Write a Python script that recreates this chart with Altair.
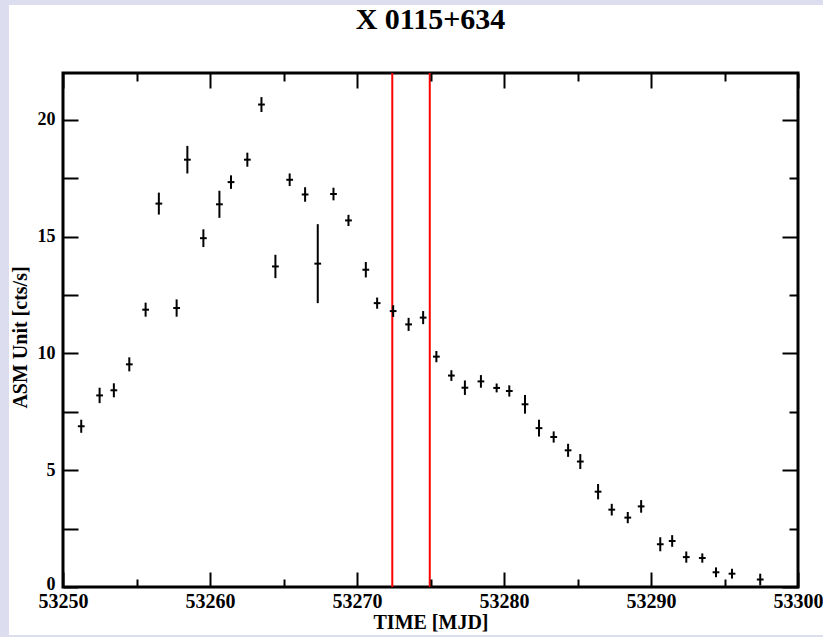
import altair as alt
import pandas as pd

TITLE = "X 0115+634"
X_TITLE = "TIME [MJD]"
Y_TITLE = "ASM Unit [cts/s]"

time_mjd = [53251.24, 53252.49, 53253.46, 53254.51, 53255.62, 53256.52, 53257.73, 53258.46,
            53259.55, 53260.64, 53261.43, 53262.54, 53263.50, 53264.45, 53265.42, 53266.47,
            53267.33, 53268.40, 53269.42, 53270.60, 53271.37, 53272.46, 53273.51, 53274.50,
            53275.40, 53276.42, 53277.34, 53278.43, 53279.50, 53280.36, 53281.43, 53282.38,
            53283.38, 53284.36, 53285.19, 53286.40, 53287.33, 53288.42, 53289.33, 53290.63,
            53291.44, 53292.40, 53293.49, 53294.42, 53295.51, 53297.43]
rate = [6.88, 8.20, 8.42, 9.53, 11.87, 16.41, 11.94, 18.29,
        14.93, 16.38, 17.33, 18.29, 20.65, 13.72, 17.43, 16.80,
        13.84, 16.82, 15.69, 13.58, 12.15, 11.81, 11.24, 11.53,
        9.86, 9.05, 8.53, 8.80, 8.52, 8.39, 7.82, 6.80,
        6.42, 5.85, 5.37, 4.08, 3.31, 2.97, 3.45, 1.83,
        1.97, 1.28, 1.24, 0.63, 0.57, 0.32]
rate_err = [0.28, 0.33, 0.30, 0.30, 0.30, 0.47, 0.37, 0.59,
            0.38, 0.58, 0.29, 0.30, 0.32, 0.50, 0.27, 0.31,
            1.69, 0.27, 0.24, 0.33, 0.24, 0.25, 0.28, 0.28,
            0.24, 0.23, 0.31, 0.27, 0.19, 0.24, 0.40, 0.36,
            0.24, 0.28, 0.32, 0.33, 0.25, 0.24, 0.27, 0.30,
            0.25, 0.24, 0.20, 0.21, 0.21, 0.25]
marker_times = [53272.4, 53274.95]

x_major = [53250, 53260, 53270, 53280, 53290, 53300]
x_minor = [53255, 53265, 53275, 53285, 53295]
y_major = [0, 5, 10, 15, 20]
y_minor = [2.5, 7.5, 12.5, 17.5]

FONT = "Liberation Serif"
W, H = 735, 514
PAD_L, PAD_T = 63, 73
LAVENDER = "#dcdef0"

df = pd.DataFrame({"t": time_mjd, "rate": rate, "err": rate_err})
marks_df = pd.DataFrame({"m": marker_times})

xs = alt.Scale(domain=[53250, 53300], nice=False, zero=False)
ys = alt.Scale(domain=[0, 22], nice=False, zero=False)


def ax(orient, values, size, **kw):
    base = dict(orient=orient, values=values, tickSize=size, offset=-size, domain=False,
                grid=False, ticks=True, tickColor="black", tickWidth=2, zindex=1)
    base.update(kw)
    if "labels" not in base:
        base["labels"] = False
    if "title" not in base:
        base["title"] = None
    return alt.Axis(**base)


bottom_major = ax("bottom", x_major, 15, labels=True, format="d", labelFont=FONT,
                  labelFontSize=20, labelFontWeight="bold", labelColor="black", labelPadding=4,
                  labelFlush=False, labelOverlap=False, title=X_TITLE, titleFont=FONT,
                  titleFontSize=20, titleFontWeight="bold", titleColor="black", titlePadding=1)
bottom_minor = ax("bottom", x_minor, 8)
top_major = ax("top", x_major, 15)
top_minor = ax("top", x_minor, 8)
left_major = ax("left", y_major, 15, labels=True, format="d", labelFont=FONT, labelFontSize=18,
                labelFontWeight="bold", labelColor="black", labelPadding=8,
                labelOffset={"condition": {"test": "datum.value == 0", "value": -3}, "value": 0},
                labelFlush=False, labelOverlap=False, title=Y_TITLE, titleFont=FONT,
                titleFontSize=20, titleFontWeight="bold", titleColor="black", titlePadding=7,
                titleY=264)
left_minor = ax("left", y_minor, 15)
right_major = ax("right", y_major, 16)
right_minor = ax("right", y_minor, 9)

base = alt.Chart(df).transform_calculate(
    lo="datum.rate - datum.err", hi="datum.rate + datum.err",
    t_lo="datum.t - 0.23", t_hi="datum.t + 0.23")

one = alt.Data(values=[{"k": 0}])
strip_left = alt.Chart(one).mark_rect(color=LAVENDER).encode(
    x=alt.value(-PAD_L), x2=alt.value(-PAD_L + 9), y=alt.value(-PAD_T), y2=alt.value(637 - PAD_T))
strip_top = alt.Chart(one).mark_rect(color=LAVENDER).encode(
    x=alt.value(-PAD_L), x2=alt.value(823 - PAD_L), y=alt.value(-PAD_T), y2=alt.value(-PAD_T + 5))
strip_bottom = alt.Chart(one).mark_rect(color=LAVENDER).encode(
    x=alt.value(-PAD_L), x2=alt.value(823 - PAD_L), y=alt.value(635 - PAD_T), y2=alt.value(637 - PAD_T))

vbars = base.mark_rule(color="black", strokeWidth=2).encode(
    x=alt.X("t:Q", scale=xs, axis=bottom_major),
    y=alt.Y("lo:Q", scale=ys, axis=left_major),
    y2="hi:Q")
hbars = base.mark_rule(color="black", strokeWidth=2).encode(
    x=alt.X("t_lo:Q", scale=xs, axis=bottom_minor),
    x2="t_hi:Q",
    y=alt.Y("rate:Q", scale=ys, axis=left_minor))
ghost1 = base.mark_point(opacity=0).encode(
    x=alt.X("t:Q", scale=xs, axis=top_major),
    y=alt.Y("rate:Q", scale=ys, axis=right_major))
ghost2 = base.mark_point(opacity=0).encode(
    x=alt.X("t:Q", scale=xs, axis=None),
    y=alt.Y("rate:Q", scale=ys, axis=right_minor))
red = alt.Chart(marks_df).mark_rule(color="#ff0000", strokeWidth=2).encode(
    x=alt.X("m:Q", scale=xs, axis=top_minor))

chart = alt.layer(
    strip_left, strip_top, strip_bottom, red, vbars, hbars, ghost1, ghost2
).resolve_axis(
    x="independent", y="independent"
).properties(
    width=W, height=H,
    title=alt.Title(TITLE, font=FONT, fontSize=30, fontWeight="bold", color="black",
                    anchor="middle", frame="group", offset=0, dy=35),
    autosize=alt.AutoSizeParams(type="none"),
    padding={"left": PAD_L, "top": PAD_T, "right": 823 - PAD_L - W, "bottom": 637 - PAD_T - H},
    background="white",
).configure_view(stroke="black", strokeWidth=3)

chart.save("out.html", embed_options={"renderer": "svg", "actions": False})
